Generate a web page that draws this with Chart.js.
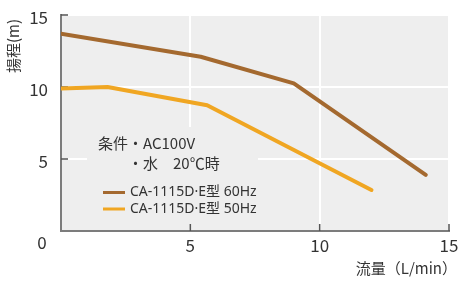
<!DOCTYPE html>
<html>
<head>
<meta charset="utf-8">
<script src="https://cdn.jsdelivr.net/npm/chart.js@4"></script>
<style>
  html, body { margin: 0; padding: 0; background: #fff; }
  #wrap { width: 461px; height: 281px; }
</style>
</head>
<body>
<div id="wrap"><canvas id="pump"></canvas></div>
<script>
// 揚程曲線
const flow60 = [0, 5.4, 9.0, 14.1];
const head60 = [13.7, 12.1, 10.25, 3.9];
const flow50 = [0, 1.8, 5.65, 12.0];
const head50 = [9.9, 10.0, 8.73, 2.85];
const seriesNames = ['CA-1115D·E型 60Hz', 'CA-1115D·E型 50Hz'];
const xTickValues = [0, 5, 10, 15];
const yTickValues = [0, 5, 10, 15];
const noteLines = ['条件', '・AC100V', '・水　20℃時'];
const xTitle = '流量（L/min）';
const yTitle = '揚程(m)';

const FONT = '"Noto Sans CJK JP", "Noto Sans", sans-serif';
const LATIN_FIRST = '"Noto Sans", "Noto Sans CJK JP", sans-serif';
const TEXT = '#333333';
const AXIS = '#7c7c7c';
const PLOTBG = '#eeeeee';
const colors = ['#a4692f', '#f0a622'];

function pts(xs, ys){
    return xs.map((x, i) => ({x: x, y: ys[i]}));
}

// gray background, note box, inward ticks, corner "0", axis titles
const decor = {
    id: 'decor',
    beforeDraw(chart){
        const {ctx, chartArea: a} = chart;
        ctx.save();
        ctx.fillStyle = PLOTBG;
        ctx.fillRect(a.left, a.top, a.right - a.left, a.bottom - a.top);
        ctx.restore();
    },
    beforeDatasetsDraw(chart){
        const {ctx, chartArea: a, scales} = chart;
        const xs = scales.x, ys = scales.y;
        ctx.save();
        // box behind the note / legend hides the grid
        ctx.fillStyle = PLOTBG;
        ctx.fillRect(87, 127, 171, a.bottom - 127 - 1.5);

        // inward tick marks
        ctx.strokeStyle = '#555';
        ctx.lineWidth = 1.5;
        yTickValues.slice(1).forEach(v => {
            const y = ys.getPixelForValue(v);
            ctx.beginPath(); ctx.moveTo(a.left, y); ctx.lineTo(a.left + 7, y); ctx.stroke();
        });
        xTickValues.slice(1).forEach(v => {
            const x = xs.getPixelForValue(v);
            ctx.beginPath(); ctx.moveTo(x, a.bottom); ctx.lineTo(x, a.bottom - 7); ctx.stroke();
        });

        // note text
        ctx.fillStyle = TEXT;
        ctx.font = '15px ' + FONT;
        ctx.textBaseline = 'middle';
        ctx.textAlign = 'left';
        const nx = 98;
        ctx.fillText(noteLines[0], nx, 143);
        const sx = nx + ctx.measureText(noteLines[0]).width;
        ctx.fillText(noteLines[1], sx, 143);
        ctx.fillText(noteLines[2], sx, 163);

        // legend rows
        ctx.font = '14px ' + LATIN_FIRST;
        chart.data.datasets.forEach((ds, i) => {
            const y = 192.5 + i * 16.5;
            ctx.strokeStyle = ds.borderColor;
            ctx.lineWidth = 3;
            ctx.beginPath(); ctx.moveTo(103, y); ctx.lineTo(125, y); ctx.stroke();
            ctx.fillText(ds.label, 130, y);
        });

        // shared origin label
        ctx.font = '17px ' + FONT;
        ctx.textAlign = 'center';
        ctx.fillText('0', 42, 243);
        ctx.restore();
    },
    afterDraw(chart){
        const {ctx} = chart;
        ctx.save();
        ctx.fillStyle = TEXT;
        ctx.font = '15px ' + FONT;
        ctx.textBaseline = 'middle';
        ctx.textAlign = 'left';
        // x title: ink ends at 447
        const mx = ctx.measureText(xTitle);
        ctx.fillText(xTitle, 447 - mx.actualBoundingBoxRight, 268);
        // y title: rotated, ink top at 20
        const my = ctx.measureText(yTitle);
        ctx.translate(13, 20);
        ctx.rotate(-Math.PI / 2);
        ctx.fillText(yTitle, -my.actualBoundingBoxRight, 0);
        ctx.restore();
    }
};

const ctx = document.getElementById('pump').getContext('2d');
const chart = new Chart(ctx, {
    type: 'line',
    data: {
        datasets: [
            {label: seriesNames[0], data: pts(flow60, head60), borderColor: colors[0], borderWidth: 4, pointRadius: 0, tension: 0, borderCapStyle: 'round', borderJoinStyle: 'round'},
            {label: seriesNames[1], data: pts(flow50, head50), borderColor: colors[1], borderWidth: 4, pointRadius: 0, tension: 0, borderCapStyle: 'round', borderJoinStyle: 'round'}
        ]
    },
    options: {
        responsive: true,
        maintainAspectRatio: false,
        animation: false,
        events: [],
        layout: { padding: { top: 15, right: 12, left: 0, bottom: 0 } },
        plugins: {
            legend: { display: false },
            tooltip: { enabled: false }
        },
        scales: {
            x: {
                type: 'linear',
                min: 0, max: 15,
                afterBuildTicks: s => { s.ticks = xTickValues.map(v => ({value: v})); },
                afterFit: s => { s.height = 50; s.paddingLeft = 0; s.paddingRight = 0; },
                grid: { color: '#ffffff', lineWidth: 2, drawTicks: false },
                border: { display: true, color: AXIS, width: 2 },
                ticks: {
                    autoSkip: false, maxRotation: 0, padding: 4,
                    color: TEXT, font: { family: FONT, size: 17 },
                    callback: v => v === 0 ? '' : String(v)
                }
            },
            y: {
                type: 'linear',
                min: 0, max: 15,
                afterBuildTicks: s => { s.ticks = yTickValues.map(v => ({value: v})); },
                afterFit: s => { s.width = 61; s.paddingTop = 0; s.paddingBottom = 0; },
                grid: { color: '#ffffff', lineWidth: 2, drawTicks: false },
                border: { display: true, color: AXIS, width: 2 },
                ticks: {
                    autoSkip: false, padding: 13, labelOffset: 3,
                    color: TEXT, font: { family: FONT, size: 17 },
                    callback: v => v === 0 ? '' : String(v)
                }
            }
        }
    },
    plugins: [decor]
});
</script>
</body>
</html>
